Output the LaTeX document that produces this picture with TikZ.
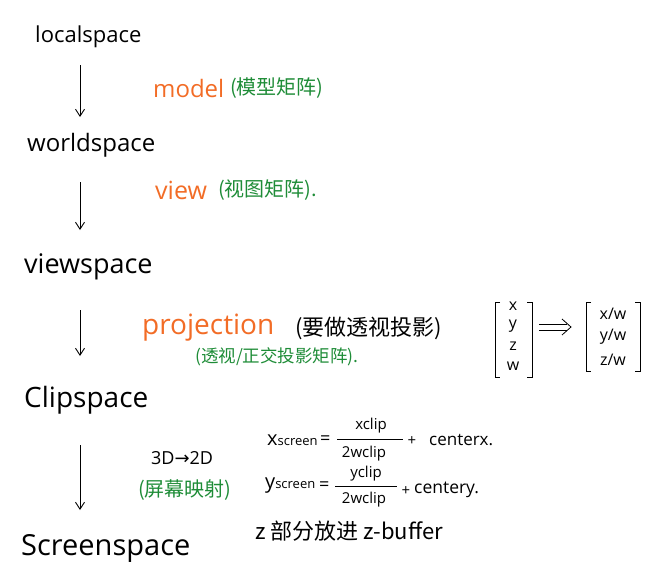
\documentclass[tikz,border=0pt]{standalone}
\usepackage{fontspec}
\setmainfont{Open Sans}
\newfontfamily\cjk{Noto Sans CJK SC}
\newfontfamily\symf{DejaVu Sans}
\usetikzlibrary{arrows.meta}
\definecolor{orng}{RGB}{242,108,38}
\definecolor{grn}{RGB}{30,140,55}
\tikzset{
  space/.style={anchor=west, inner sep=0pt, font=\fontsize{22}{24}\selectfont},
  ornglbl/.style={anchor=west, inner sep=0pt, text=orng, font=\fontsize{24}{26}\selectfont},
  grnlbl/.style={anchor=west, inner sep=0pt, text=grn, font=\fontsize{20}{22}\selectfont\cjk},
  blklbl/.style={anchor=west, inner sep=0pt, font=\fontsize{22}{24}\selectfont\cjk},
  flow/.style={-{Straight Barb[length=7pt,width=9pt]}, line width=0.9pt},
  ent/.style={inner sep=0pt, font=\fontsize{16}{17}\selectfont},
  frm/.style={inner sep=0pt, font=\fontsize{15}{17}\selectfont},
  brk/.style={line width=0.9pt},
}
\begin{document}
\begin{tikzpicture}[x=1pt,y=-1pt]
\useasboundingbox (0,0) rectangle (663,578);
% spaces
\node[space] (local) at (35,37) {localspace};
\node[space, font=\fontsize{24}{26}\selectfont] (world) at (27,145) {worldspace};
\node[space, font=\fontsize{27}{29}\selectfont] (view) at (24,267) {viewspace};
\node[space, font=\fontsize{28}{30}\selectfont] (clip) at (24,400) {Clipspace};
\node[space, font=\fontsize{29}{31}\selectfont] (screen) at (21,548) {Screenspace};
% arrows
\coordinate (a1s) at (80,65); \coordinate (a1e) at (80,117);
\coordinate (a2s) at (80,182); \coordinate (a2e) at (80,230);
\coordinate (a3s) at (80,310); \coordinate (a3e) at (80,356);
\coordinate (a4s) at (80,445); \coordinate (a4e) at (80,510);
\draw[flow] (a1s) -- (a1e);
\draw[flow] (a2s) -- (a2e);
\draw[flow] (a3s) -- (a3e);
\draw[flow] (a4s) -- (a4e);
% labels
\node[ornglbl] (model) at (153,88) {model};
\node[grnlbl] (modelcn) at (230,88) {(模型矩阵)};
\node[ornglbl, font=\fontsize{25}{27}\selectfont] (viewl) at (155,190) {view};
\node[grnlbl] (viewcn) at (218,190) {(视图矩阵).};
\node[ornglbl, font=\fontsize{28}{30}\selectfont] (proj) at (142,328) {projection};
\node[blklbl] (projcn) at (295,328) {(要做透视投影)};
\node[grnlbl, font=\fontsize{17.5}{20}\selectfont\cjk] (projcn2) at (195,357) {(透视/正交投影矩阵).};
\node[anchor=west, inner sep=0pt, font=\fontsize{18}{20}\selectfont] (d32) at (151,458) {3D{\symf →}2D};
\node[grnlbl] (scrcn) at (138,490) {(屏幕映射)};
% matrix 1
\draw[brk] (500,302) -- (495,302) -- (495,377) -- (500,377);
\draw[brk] (527,302) -- (532,302) -- (532,377) -- (527,377);
\node[ent] (m1x) at (513,306) {x};
\node[ent] (m1y) at (513,326) {y};
\node[ent] (m1z) at (513,346) {z};
\node[ent] (m1w) at (513,366) {w};
% double arrow
\coordinate (m1r) at (539,327);
\coordinate (m2l) at (571,327);
\draw[line width=0.8pt] ([yshift=-3pt]m1r) -- ([yshift=-3pt,xshift=-4pt]m2l);
\draw[line width=0.8pt] ([yshift=3pt]m1r) -- ([yshift=3pt,xshift=-4pt]m2l);
\draw[line width=0.8pt] ([xshift=-9pt,yshift=-8pt]m2l) -- (m2l) -- ([xshift=-9pt,yshift=8pt]m2l);
% matrix 2
\draw[brk] (591,302) -- (586,302) -- (586,371) -- (591,371);
\draw[brk] (635,302) -- (640,302) -- (640,371) -- (635,371);
\node[ent] (m2x) at (613,314) {x/w};
\node[ent] (m2y) at (613,337) {y/w};
\node[ent] (m2z) at (613,360) {z/w};
% formula 1
\node[frm, anchor=west] (xs) at (267,440) {{\fontsize{20}{20}\selectfont x}{\fontsize{13}{14}\selectfont screen}};
\node[frm, anchor=west, font=\fontsize{18}{19}\selectfont] (eq1) at (320,440) {=};
\coordinate (f1l) at (337,439); \coordinate (f1r) at (403,439);
\draw[line width=0.8pt] (f1l) -- (f1r);
\node[frm] (n1) at (371,426) {xclip};
\node[frm] (d1) at (364,454) {2wclip};
\node[frm] (p1) at (412,441) {+};
\node[frm, anchor=west, font=\fontsize{17}{19}\selectfont] (c1) at (429,440) {centerx.};
% formula 2
\node[frm, anchor=west] (ys) at (265,486) {{\fontsize{20}{20}\selectfont y}{\fontsize{13}{14}\selectfont screen}};
\node[frm, anchor=west, font=\fontsize{18}{19}\selectfont] (eq2) at (319,486) {=};
\coordinate (f2l) at (335,486); \coordinate (f2r) at (397,486);
\draw[line width=0.8pt] (f2l) -- (f2r);
\node[frm] (n2) at (366,474) {yclip};
\node[frm] (d2) at (364,500) {2wclip};
\node[frm] (p2) at (406,491) {+};
\node[frm, anchor=west, font=\fontsize{17.5}{19}\selectfont] (c2) at (414,490) {centery.};
% z-buffer
\node[blklbl] (zbuf) at (255,531) {z 部分放进 z-buffer};
\end{tikzpicture}
\end{document}
